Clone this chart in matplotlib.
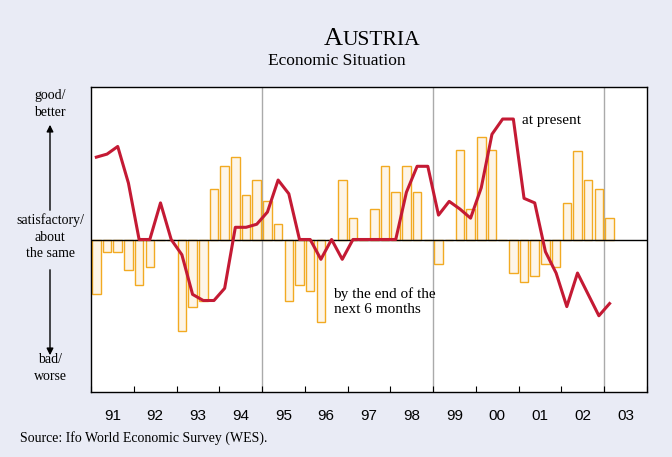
import numpy as np
import matplotlib.pyplot as plt
from matplotlib.patches import FancyArrowPatch

# quarterly data, 1991 Q1 .. 2003 Q1 (balance, scale -100..100)
start_year = 1991
present = [  # bars: economic situation at present
    -36, -8, -8, -20,
    -30, -18, 0, 0,
    -60, -44, -40, 33,
    48, 54, 29, 39,
    25, 10, -40, -30,
    -34, -54, 0, 39,
    14, 0, 20, 48,
    31, 48, 31, 0,
    -16, 0, 59, 20,
    67, 59, 0, -22,
    -28, -24, -16, -18,
    24, 58, 39, 33,
    14,
]
expect = [  # line: by the end of the next 6 months
    54, 56, 61, 37,
    0, 0, 24, 0,
    -10, -36, -40, -40,
    -32, 8, 8, 10,
    18, 39, 30, 0,
    0, -13, 0, -13,
    0, 0, 0, 0,
    0, 31, 48, 48,
    16, 25, 20, 14,
    34, 69, 79, 79,
    27, 24, -8, -22,
    -44, -22, -36, -50,
    -42,
]
year_labels = ['91', '92', '93', '94', '95', '96', '97', '98', '99', '00', '01', '02', '03']

bg = '#E9EBF5'
serif = ['Liberation Serif', 'DejaVu Serif']
W, H = 672, 457

x = start_year + (np.arange(len(present)) + 0.5) / 4

fig = plt.figure(figsize=(W / 100, H / 100), dpi=100, facecolor=bg)
ax = fig.add_axes([91 / W, 65 / H, 556 / W, 305 / H])

ax.bar(x, present, width=0.2, color='#FDF5E8', edgecolor='#F2AA22', linewidth=1.0, zorder=2)
ax.axhline(0, color='black', linewidth=1.0, zorder=3)
ax.plot(x, expect, color='#C41A34', linewidth=2.2, zorder=4)

for yr in (1995, 1999, 2003):
    ax.axvline(yr, color='#AAAAAA', linewidth=1.0, zorder=1)

ax.set_xlim(1991, 2004)
ax.set_ylim(-100, 100)
ax.set_yticks([])
ax.set_xticks(np.arange(1991, 2005))
ax.set_xticklabels([])
ax.tick_params(axis='x', direction='in', length=4, width=0.8)
ax.set_xticks(np.arange(1991, 2004) + 0.5, minor=True)
ax.set_xticklabels(year_labels, minor=True, fontsize=11, family=['Liberation Sans', 'DejaVu Sans'])
ax.tick_params(axis='x', which='minor', length=0, pad=12)
for s in ax.spines.values():
    s.set_linewidth(1.0)

ax.text(2001.07, 78, 'at present', fontsize=11, family=serif, va='center')
ax.text(1996.67, -40.5, 'by the end of the\nnext 6 months', fontsize=11, family=serif,
        va='center', linespacing=1.2)

# title in small caps: big "A" followed by smaller "USTRIA"
t1 = fig.text(324 / W, 1 - 45 / H, 'A', fontsize=19, family=serif, va='baseline')
fig.canvas.draw()
bb = t1.get_window_extent()
fig.text(bb.x1 / W, 1 - 45 / H, 'USTRIA', fontsize=15.5, family=serif, va='baseline')
fig.text(0.5 + 1 / W, 1 - 61 / H, 'Economic Situation', fontsize=12.5, family=serif,
         ha='center', va='center')

# left scale annotations
lx = 50 / W
fig.text(lx, 1 - 104 / H, 'good/\nbetter', fontsize=10, family=serif, ha='center', va='center',
         linespacing=1.35)
fig.text(lx, 1 - 237 / H, 'satisfactory/\nabout\nthe same', fontsize=10, family=serif,
         ha='center', va='center', linespacing=1.35)
fig.text(lx, 1 - 368 / H, 'bad/\nworse', fontsize=10, family=serif, ha='center', va='center',
         linespacing=1.35)
fig.patches.append(FancyArrowPatch((lx, 1 - 213 / H), (lx, 1 - 122 / H), transform=fig.transFigure,
                                   arrowstyle='-|>', mutation_scale=10, color='black', lw=1.0))
fig.patches.append(FancyArrowPatch((lx, 1 - 267 / H), (lx, 1 - 358 / H), transform=fig.transFigure,
                                   arrowstyle='-|>', mutation_scale=10, color='black', lw=1.0))

fig.text(20 / W, 1 - 438 / H, 'Source: Ifo World Economic Survey (WES).', fontsize=10,
         family=serif, va='center')

fig.savefig('out.png', dpi=100, facecolor=bg)
